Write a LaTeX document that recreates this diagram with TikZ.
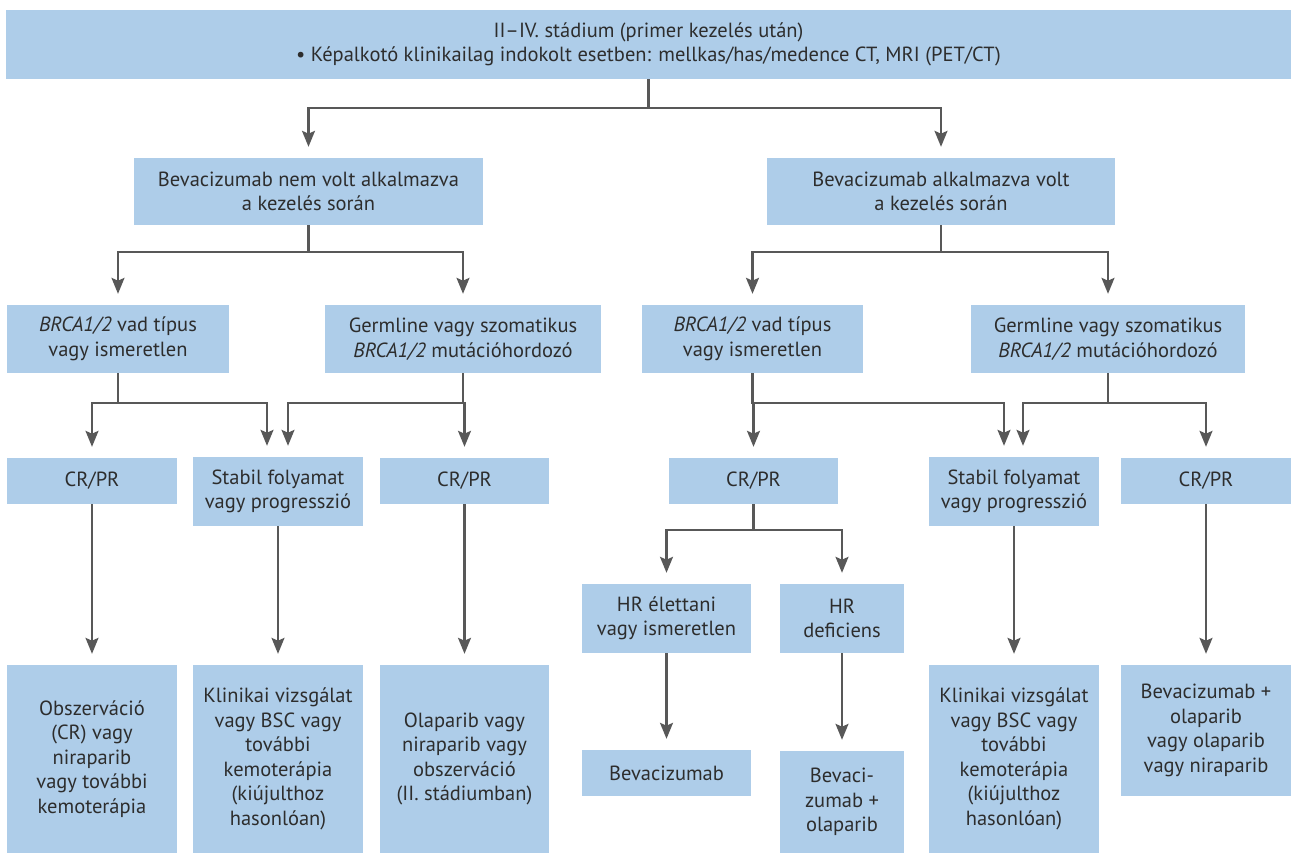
\documentclass[tikz,border=0pt]{standalone}
\usepackage{fontspec}
\setmainfont{PT Sans}
\usepackage{tikz}
\usetikzlibrary{arrows.meta,positioning}
\definecolor{boxblue}{RGB}{174,205,233}
\definecolor{linegray}{RGB}{88,88,88}
\definecolor{textgray}{RGB}{45,45,45}
\tikzset{
    %Define standard arrow tip
    >={Stealth[length=16pt,width=13pt,inset=3pt]},
    %Define style for boxes
    box/.style={
           rectangle,
           fill=boxblue,
           inner sep=0pt,
           text=textgray,
           font=\fontsize{20.5}{24.5}\selectfont,
           align=center},
    % Define arrow style
    pil/.style={
           ->,
           draw=linegray,
           line width=2.2pt,
           shorten >=11pt}
}
\begin{document}
\begin{tikzpicture}[x=1pt,y=-1pt]
\useasboundingbox[fill=white] (0,0) rectangle (1291,853);
\node[box, minimum width=1285, minimum height=69](1) at (648.5,44.5)
    {II--IV. stádium (primer kezelés után)\\
     • Képalkotó klinikailag indokolt esetben: mellkas/has/medence CT, MRI (PET/CT)};
\node[box, minimum width=349, minimum height=67](2) at (308.5,191.5)
    {Bevacizumab nem volt alkalmazva\\a kezelés során};
\node[box, minimum width=348, minimum height=67](3) at (941,191.5)
    {Bevacizumab alkalmazva volt\\a kezelés során};
\node[box, minimum width=222, minimum height=68](4) at (118,339)
    {\textit{BRCA1/2} vad típus\\vagy ismeretlen};
\node[box, minimum width=276, minimum height=68](5) at (463,339)
    {Germline vagy szomatikus\\\textit{BRCA1/2} mutációhordozó};
\node[box, minimum width=221, minimum height=68](6) at (752.5,339)
    {\textit{BRCA1/2} vad típus\\vagy ismeretlen};
\node[box, minimum width=274, minimum height=68](7) at (1108,339)
    {Germline vagy szomatikus\\\textit{BRCA1/2} mutációhordozó};
\node[box, minimum width=170, minimum height=46](8) at (92,481) {CR/PR};
\node[box, minimum width=170, minimum height=69](9) at (278,491.5)
    {Stabil folyamat\\vagy progresszió};
\node[box, minimum width=169, minimum height=46](10) at (464.5,481) {CR/PR};
\node[box, minimum width=169, minimum height=46](11) at (753.5,481) {CR/PR};
\node[box, minimum width=170, minimum height=69](12) at (1014,491.5)
    {Stabil folyamat\\vagy progresszió};
\node[box, minimum width=170, minimum height=46](13) at (1206,481) {CR/PR};
\node[box, minimum width=169, minimum height=69](14) at (666.5,618.5)
    {HR élettani\\vagy ismeretlen};
\node[box, minimum width=124, minimum height=69](15) at (842,618.5)
    {HR\\deficiens};
\node[box, minimum width=170, minimum height=188](16) at (92,759)
    {Obszerváció\\(CR) vagy\\niraparib\\vagy további\\kemoterápia};
\node[box, minimum width=170, minimum height=188](17) at (278,759)
    {Klinikai vizsgálat\\vagy BSC vagy\\további\\kemoterápia\\(kiújulthoz\\hasonlóan)};
\node[box, minimum width=169, minimum height=188](18) at (464.5,759)
    {Olaparib vagy\\niraparib vagy\\obszerváció\\(II. stádiumban)};
\node[box, minimum width=169, minimum height=46](19) at (666.5,773) {Bevacizumab};
\node[box, minimum width=124, minimum height=102](20) at (842,802)
    {Bevaci-\\zumab +\\olaparib};
\node[box, minimum width=170, minimum height=188](21) at (1014,759)
    {Klinikai vizsgálat\\vagy BSC vagy\\további\\kemoterápia\\(kiújulthoz\\hasonlóan)};
\node[box, minimum width=170, minimum height=131](22) at (1206,730.5)
    {Bevacizumab +\\olaparib\\vagy olaparib\\vagy niraparib};
% connectors
\draw[pil] (1.south) -- ++(0,29) -| (2.north);
\draw[pil] (1.south) -- ++(0,29) -| (3.north);
\draw[pil] (2.south) -- ++(0,27) -| (4.north);
\draw[pil] (2.south) -- ++(0,27) -| (5.north);
\draw[pil] (3.south) -- ++(0,27) -| (6.north);
\draw[pil] (3.south) -- ++(0,27) -| (7.north);
\draw[pil] (4.south) -- ++(0,30) -| (8.north);
\draw[pil] (4.south) -- ++(0,30) -| ([xshift=-11pt]9.north);
\draw[pil] (5.south) -- ++(0,30) -| ([xshift=10pt]9.north);
\draw[pil] (5.south) -- ++(0,30) -| (10.north);
\draw[pil] (6.south) -- ++(0,30) -| (11.north);
\draw[pil] (6.south) -- ++(0,30) -| ([xshift=-10pt]12.north);
\draw[pil] (7.south) -- ++(0,30) -| ([xshift=9pt]12.north);
\draw[pil] (7.south) -- ++(0,30) -| (13.north);
\draw[pil] (11.south) -- ++(0,26) -| (14.north);
\draw[pil] (11.south) -- ++(0,26) -| (15.north);
\draw[pil] (8) -- (16);
\draw[pil] (9) -- (17);
\draw[pil] (10) -- (18);
\draw[pil] (14) -- (19);
\draw[pil] (15) -- (20);
\draw[pil] (12) -- (21);
\draw[pil] (13) -- (22);
\end{tikzpicture}
\end{document}
